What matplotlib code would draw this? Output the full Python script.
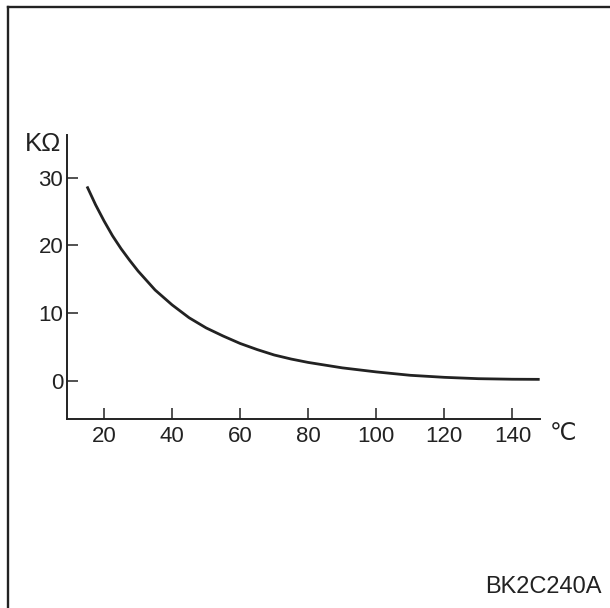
import matplotlib
matplotlib.use("Agg")
from matplotlib import pyplot as plt
from matplotlib.lines import Line2D

# 温度 (℃) と抵抗値 (KΩ) — 図から読み取った値
temp = [15, 17.5, 20, 22.5, 25, 27.5, 30, 35, 40, 45, 50, 55, 60, 65, 70, 75,
        80, 90, 100, 110, 120, 130, 140, 148]
resist = [28.7, 26.0, 23.6, 21.4, 19.5, 17.8, 16.2, 13.4, 11.2, 9.3, 7.8, 6.6,
          5.5, 4.6, 3.8, 3.2, 2.7, 1.9, 1.3, 0.8, 0.5, 0.3, 0.22, 0.2]

x_ticks = [20, 40, 60, 80, 100, 120, 140]
y_ticks = [0, 10, 20, 30]
figure_code = "BK2C240A"

W, H = 610, 608
ink = "#222222"

plt.rcParams['font.family'] = ['Liberation Sans', 'DejaVu Sans']


def main():
    fig = plt.figure(figsize=(W / 100, H / 100), dpi=100)
    fig.patch.set_facecolor("white")

    # 外枠（上と左）
    fig.add_artist(Line2D([8 / W, 8 / W], [0, 1 - 7 / H], color=ink, lw=1.7))
    fig.add_artist(Line2D([8 / W, 1], [1 - 7 / H, 1 - 7 / H], color=ink, lw=1.7))

    left, right, bottom, top = 67.3, 540, 419.3, 135
    ax = fig.add_axes([left / W, 1 - bottom / H, (right - left) / W, (bottom - top) / H])
    ax.plot(temp, resist, color=ink, lw=2.0, solid_capstyle="butt",
            solid_joinstyle="round", clip_on=False)

    ax.set_xlim(9.2, 148.1)
    ax.set_ylim(-5.7, 36.3)
    ax.set_xticks(x_ticks)
    ax.set_yticks(y_ticks)
    for s in ["top", "right"]:
        ax.spines[s].set_visible(False)
    for s in ["left", "bottom"]:
        ax.spines[s].set_color(ink)
        ax.spines[s].set_linewidth(1.4)
    ax.tick_params(direction="in", length=8, width=1.1, color=ink,
                   labelsize=16, labelcolor=ink)
    ax.tick_params(axis="x", pad=5)
    ax.tick_params(axis="y", pad=3)

    fig.text(43 / W, 1 - 144 / H, "KΩ", fontsize=18.5, color=ink, ha="center", va="center")
    fig.text(563 / W, 1 - 434 / H, "℃", fontsize=17, color=ink, ha="center", va="center")
    fig.text(602 / W, 1 - 587 / H, figure_code, fontsize=17, color=ink, ha="right", va="center")

    fig.savefig("out.png", dpi=100)


if __name__ == "__main__":
    main()
